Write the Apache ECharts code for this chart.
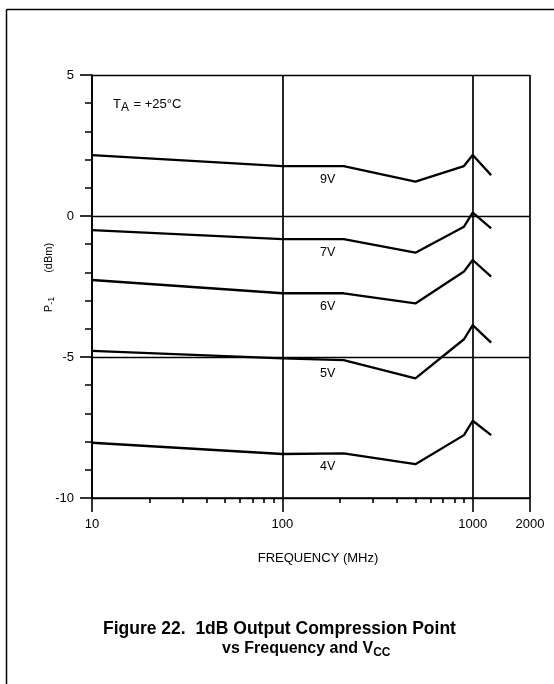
<!DOCTYPE html>
<html><head><meta charset="utf-8">
<script src="https://cdn.jsdelivr.net/npm/echarts@6/dist/echarts.min.js"></script>
<style>html,body{margin:0;padding:0;background:#fff}#c{width:554px;height:684px}</style>
</head><body><div id="c"></div>
<script>
// ---- data ----
const freqs = [10, 100, 210, 500, 900, 1000, 1250];
const v9 = [2.16, 1.77, 1.77, 1.22, 1.77, 2.16, 1.45];
const v7 = [-0.50, -0.82, -0.82, -1.30, -0.38, 0.12, -0.44];
const v6 = [-2.27, -2.74, -2.74, -3.10, -1.97, -1.56, -2.15];
const v5 = [-4.78, -5.05, -5.11, -5.76, -4.37, -3.87, -4.49];
const v4 = [-8.04, -8.44, -8.42, -8.80, -7.77, -7.26, -7.77];
const seriesNames = ['9V', '7V', '6V', '5V', '4V'];
const seriesValues = [v9, v7, v6, v5, v4];
const labelIndex = 2;
const xLabelTicks = [10, 100, 1000, 2000];
const xMinorTicks = [20, 30, 40, 50, 60, 70, 80, 90, 200, 300, 400, 500, 600, 700, 800, 900];
const yMin = -10, yMax = 5, yStep = 5;

const FONT = '"Liberation Sans", Arial, Helvetica, sans-serif';
const chart = echarts.init(document.getElementById('c'), null, {renderer: 'canvas'});

const series = seriesNames.map((name, si) => ({
  name: name,
  type: 'line',
  xAxisIndex: 0,
  yAxisIndex: 0,
  symbol: 'circle',
  symbolSize: 0,
  showSymbol: true,
  silent: true,
  animation: false,
  lineStyle: {color: '#000', width: 2.3},
  itemStyle: {color: '#000'},
  data: freqs.map((f, i) => {
    const item = {value: [f, seriesValues[si][i]]};
    if (i === labelIndex) {
      item.label = {show: true, position: 'inside', offset: [-16, 13], formatter: name,
        color: '#000', fontSize: 12.5, fontFamily: FONT};
    }
    return item;
  })
}));

const axisLineStyle = {color: '#000', width: 1.6};

chart.setOption({
  backgroundColor: '#fff',
  animation: false,
  grid: {left: 92, right: 24, top: 75, bottom: 186, containLabel: false, outerBoundsMode: 'none'},
  xAxis: [{
    type: 'log', logBase: 10, min: 10, max: 2000, position: 'bottom',
    axisLine: {show: true, onZero: false, lineStyle: axisLineStyle},
    axisTick: {show: true, inside: false, length: 14, customValues: xLabelTicks, lineStyle: axisLineStyle},
    axisLabel: {show: true, customValues: xLabelTicks, margin: 20, color: '#000', fontSize: 13, fontFamily: FONT,
      showMinLabel: true, showMaxLabel: true, hideOverlap: false,
      formatter: v => String(Math.round(v))},
    splitLine: {show: true, lineStyle: {color: '#000', width: 1.7}},
    minorTick: {show: false}, minorSplitLine: {show: false},
    name: 'FREQUENCY (MHz)', nameLocation: 'middle', nameGap: 54, nameMoveOverlap: false,
    nameTextStyle: {color: '#000', fontSize: 13, fontFamily: FONT, padding: [0, 0, 0, 14]}
  }, {
    type: 'log', logBase: 10, min: 10, max: 2000, position: 'bottom',
    axisLine: {show: false, onZero: false},
    axisTick: {show: true, inside: false, length: 5, customValues: xMinorTicks, lineStyle: axisLineStyle},
    axisLabel: {show: false},
    splitLine: {show: false}
  }],
  yAxis: {
    type: 'value', min: yMin, max: yMax, interval: yStep, position: 'left',
    axisLine: {show: true, onZero: false, lineStyle: axisLineStyle},
    axisTick: {show: true, inside: false, length: 12, lineStyle: axisLineStyle},
    minorTick: {show: true, splitNumber: 5, length: 7, lineStyle: {color: '#000', width: 1.5}},
    axisLabel: {color: '#000', fontSize: 13, fontFamily: FONT, margin: 18},
    splitLine: {show: true, lineStyle: {color: '#000', width: 1.3}},
    name: '{p|P}{s|-1}{g| }{d|(dBm)}', nameLocation: 'middle', nameGap: 35, nameMoveOverlap: false,
    nameTextStyle: {color: '#000', fontFamily: FONT, padding: [0, 0, 0, 18],
      rich: {
        p: {fontSize: 11, fontFamily: FONT, color: '#000', lineHeight: 14, verticalAlign: 'top'},
        s: {fontSize: 9, fontFamily: FONT, color: '#000', lineHeight: 14, verticalAlign: 'top', padding: [4, 0, 0, 0]},
        g: {fontSize: 11, width: 24},
        d: {fontSize: 11, fontFamily: FONT, color: '#000', lineHeight: 14, verticalAlign: 'top'}
      }}
  },
  graphic: [
    {type: 'line', silent: true, shape: {x1: 6.5, y1: 9.5, x2: 554, y2: 9.5}, style: {stroke: '#000', lineWidth: 1.5}},
    {type: 'line', silent: true, shape: {x1: 6.5, y1: 9.5, x2: 6.5, y2: 684}, style: {stroke: '#000', lineWidth: 1.5}},
    {type: 'text', silent: true, left: 113, top: 98, style: {
      text: '{t|T}{a|A}{t| = +25°C}', fill: '#000',
      rich: {
        t: {fontSize: 13, fontFamily: FONT, fill: '#000', lineHeight: 15, verticalAlign: 'top'},
        a: {fontSize: 12, fontFamily: FONT, fill: '#000', lineHeight: 15, verticalAlign: 'top', padding: [4, 1, 0, 0]}
      }}},
    {type: 'text', silent: true, left: 103, top: 620, style: {
      text: 'Figure 22.  1dB Output Compression Point', fill: '#000',
      font: 'bold 17.5px ' + FONT}},
    {type: 'text', silent: true, left: 222, top: 641, style: {
      text: '{b|vs Frequency and V}{c|CC}', fill: '#000',
      rich: {
        b: {fontSize: 16, fontWeight: 'bold', fontFamily: FONT, fill: '#000', lineHeight: 18, verticalAlign: 'top'},
        c: {fontSize: 12, fontWeight: 'bold', fontFamily: FONT, fill: '#000', lineHeight: 18, verticalAlign: 'top', padding: [6, 0, 0, 0]}
      }}}
  ],
  series: series
});
</script>
</body></html>
